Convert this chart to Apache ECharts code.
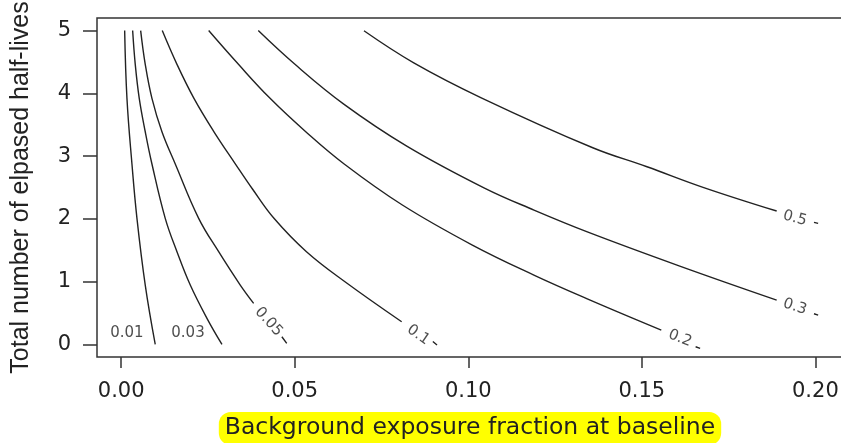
<!DOCTYPE html>
<html>
<head>
<meta charset="utf-8">
<script src="https://cdn.jsdelivr.net/npm/echarts@6/dist/echarts.min.js"></script>
<style>
  html, body { margin: 0; padding: 0; background: #fff; }
  #chart { width: 841px; height: 443px; }
</style>
</head>
<body>
<div id="chart"></div>
<script>
// contour levels and the points (x = fraction, y = half-lives)
const levels = ['0.01', '0.03', '0.05', '0.1', '0.2', '0.3', '0.5'];

const line001 = [[0.00101, 5.0], [0.00167, 3.92], [0.00311, 2.874], [0.00455, 2.009], [0.00694, 0.946], [0.00982, 0.0]];
const line003 = [[0.00331, 5.0], [0.00406, 4.462], [0.00521, 3.92], [0.00694, 3.388], [0.00887, 2.874],
  [0.0127, 2.009], [0.01608, 1.477], [0.01991, 0.946], [0.02472, 0.416], [0.02904, 0.0]];
const line005 = [[0.00562, 5.0], [0.00694, 4.462], [0.00887, 3.92], [0.01175, 3.388], [0.01559, 2.874],
  [0.02233, 2.009], [0.02809, 1.477], [0.03431, 0.946], [0.03817, 0.655]];
const dash005 = [[0.0463, 0.123], [0.0477, 0.017]];
const line01 = [[0.01184, 5.0], [0.01608, 4.462], [0.02097, 3.92], [0.02674, 3.388], [0.03293, 2.874],
  [0.03783, 2.476], [0.04402, 2.009], [0.05339, 1.477], [0.06448, 0.999], [0.08081, 0.362]];
const dash01 = [[0.0898, 0.046], [0.091, -0.01]];
const line02 = [[0.02521, 5.0], [0.03379, 4.462], [0.0429, 3.92], [0.05318, 3.388], [0.06425, 2.874],
  [0.08101, 2.221], [0.10118, 1.583], [0.1189, 1.105], [0.13512, 0.707], [0.15561, 0.229]];
const dash02 = [[0.1655, -0.037], [0.1668, -0.062]];
const line03 = [[0.0395, 5.0], [0.05007, 4.462], [0.06413, 3.829], [0.08228, 3.16], [0.10467, 2.491],
  [0.11893, 2.141], [0.13449, 1.79], [0.16093, 1.249], [0.18885, 0.707]];
const dash03 = [[0.1996, 0.489], [0.2008, 0.468]];
const line05 = [[0.06995, 4.997], [0.0843, 4.486], [0.10375, 3.929], [0.13587, 3.133], [0.15148, 2.831],
  [0.16785, 2.499], [0.18885, 2.125]];
const dash05 = [[0.1996, 1.945], [0.2008, 1.929]];

// where each contour label sits, and its angle
const labelAt = [[0.00167, 0.186], [0.01925, 0.186], [0.0425, 0.362], [0.0856, 0.15], [0.161, 0.097], [0.1941, 0.6], [0.1941, 2.009]];
const labelAngle = [0, 0, -48, -35, -22, -18, -15];

const xTicks = [0, 0.05, 0.1, 0.15, 0.2];
const yTicks = [0, 1, 2, 3, 4, 5];

const curves = [
  [line001, []],
  [line003, []],
  [line005, dash005],
  [line01, dash01],
  [line02, dash02],
  [line03, dash03],
  [line05, dash05],
];

const ink = '#222';

const series = curves.map((c, i) => ({
  type: 'line',
  name: levels[i],
  data: c[1].length ? c[0].concat([null], c[1]) : c[0],
  connectNulls: false,
  smooth: 0.4,
  showSymbol: false,
  lineStyle: {color: ink, width: 1.4},
  silent: true,
}));

series.push({
  type: 'scatter',
  symbolSize: 1,
  itemStyle: {color: 'rgba(0,0,0,0)'},
  silent: true,
  data: labelAt.map((p, i) => ({
    name: levels[i],
    value: p,
    label: {rotate: labelAngle[i]},
  })),
  label: {
    show: true,
    position: 'inside',
    formatter: p => p.name,
    fontFamily: 'DejaVu Sans',
    fontSize: 15,
    color: ink,
  },
});

const chart = echarts.init(document.getElementById('chart'));
chart.setOption({
  animation: false,
  backgroundColor: '#fff',
  grid: {
    left: 97,
    top: 18,
    right: -2,
    bottom: 86,
    outerBoundsMode: 'none',
    show: true,
    borderColor: '#333',
    borderWidth: 1.5,
  },
  xAxis: {
    type: 'value',
    min: -0.00696,
    max: 0.20796,
    axisLine: {show: false, onZero: false},
    splitLine: {show: false},
    axisTick: {
      show: true,
      length: 11,
      customValues: xTicks,
      lineStyle: {color: '#333', width: 1.5},
    },
    axisLabel: {
      customValues: xTicks,
      margin: 24,
      formatter: v => v.toFixed(2),
      fontFamily: 'DejaVu Sans',
      fontSize: 21,
      color: ink,
    },
    name: 'Background exposure fraction at baseline',
    nameLocation: 'middle',
    nameGap: 55,
    nameTextStyle: {
      fontFamily: 'DejaVu Sans',
      fontSize: 23.5,
      color: ink,
      backgroundColor: '#ffff00',
      borderRadius: 12,
      padding: [4, 6, 5, 6],
    },
  },
  yAxis: {
    type: 'value',
    min: -0.2,
    max: 5.2,
    axisLine: {show: false, onZero: false},
    splitLine: {show: false},
    axisTick: {
      show: true,
      length: 14,
      customValues: yTicks,
      lineStyle: {color: '#333', width: 1.5},
    },
    axisLabel: {
      customValues: yTicks,
      margin: 26,
      fontFamily: 'DejaVu Sans',
      fontSize: 21,
      color: ink,
    },
    name: 'Total number of elpased half-lives',
    nameLocation: 'middle',
    nameRotate: 90,
    nameGap: 63,
    nameTextStyle: {
      fontFamily: 'Liberation Sans',
      fontSize: 25,
      color: ink,
    },
  },
  series: series,
});
</script>
</body>
</html>
